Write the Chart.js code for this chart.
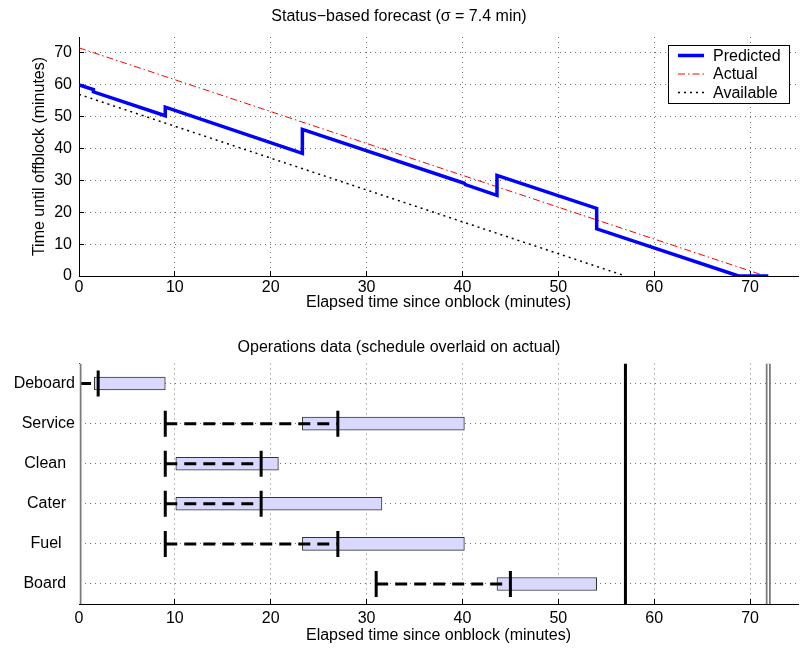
<!DOCTYPE html>
<html>
<head>
<meta charset="utf-8">
<script src="https://cdn.jsdelivr.net/npm/chart.js@4.4.0/dist/chart.umd.min.js"></script>
<style>
body { margin: 0; background: #fff; }
#wrap { position: relative; width: 807px; height: 650px; }
.panel { position: absolute; left: 0; width: 807px; height: 325px; }
</style>
</head>
<body>
<div id="wrap">
	<div class="panel" style="top:0"><canvas id="forecast_canvas" width="807" height="325"></canvas></div>
	<div class="panel" style="top:325px"><canvas id="ops_canvas" width="807" height="325"></canvas></div>
</div>
<script>
// --- status based forecast (top) ---
const pred_x = [0, 1.5, 1.5, 9.0, 9.0, 23.3, 23.3, 40.2, 40.3, 43.6, 43.6, 54.0, 54.0, 68.8, 71.9];
const pred_y = [60.0, 58.5, 57.8, 50.3, 53.0, 38.5, 46.0, 29.1, 28.7, 25.3, 31.6, 21.2, 14.8, 0, 0];
const actual_x = [0, 71.6];
const actual_y = [71.6, 0];
const avail_x = [0, 57];
const avail_y = [57, 0];
const minute_ticks = [0, 10, 20, 30, 40, 50, 60, 70];

// --- operations data (bottom) ---
const ops = ['Deboard', 'Service', 'Clean', 'Cater', 'Fuel', 'Board'];
const sched_start = [0, 9, 9, 9, 9, 31];
const sched_end = [2, 27, 19, 19, 27, 45];
const act_start = [1.6, 23.3, 10.1, 10.1, 23.3, 43.6];
const act_end = [9.0, 40.2, 20.8, 31.6, 40.2, 54.0];
const avail_offblock = 57;
const onblock = 0;
const actual_offblock = 71.9;

const font_family = '"Liberation Sans", Arial, Helvetica, sans-serif';
Chart.defaults.font.family = font_family;
Chart.defaults.font.size = 16;
Chart.defaults.color = '#000';
Chart.defaults.animation = false;

// dotted grid, short ticks pointing into the plot
const grid_dots = {
	color: 'rgba(0,0,0,0.55)', lineWidth: 1, offset: false,
	drawTicks: true, tickLength: -5, tickColor: '#000', tickWidth: 1, tickBorderDash: []
};
const axis_border = { color: '#000', width: 1, dash: [1, 4] };

function keepTicks(values) {
	return function(scale) {
		scale.ticks = values.map(v => ({ value: v }));
	};
}

// fixed axis sizes so the plot boxes line up with the figure
function fixSize(size) {
	return function(s) {
		if (s.isHorizontal()) s.height = size; else s.width = size;
		s.paddingLeft = 0; s.paddingRight = 0; s.paddingTop = 0; s.paddingBottom = 0;
	};
}

function pts(xs, ys) {
	return xs.map((x, i) => ({ x: x, y: ys[i] }));
}

// legend in a box, top right of plot area
const legend_box = {
	id: 'legend_box',
	afterDatasetsDraw(chart) {
		const ctx = chart.ctx;
		const area = chart.chartArea;
		const w = 121, h = 58;
		const x0 = area.right - 9 - w, y0 = area.top + 8;
		ctx.save();
		ctx.fillStyle = '#fff';
		ctx.fillRect(x0, y0, w, h);
		ctx.strokeStyle = '#000';
		ctx.lineWidth = 1;
		ctx.setLineDash([]);
		ctx.strokeRect(x0 + 0.5, y0 + 0.5, w, h);
		ctx.font = '16px ' + font_family;
		ctx.textBaseline = 'middle';
		ctx.fillStyle = '#000';
		chart.data.datasets.forEach((ds, i) => {
			const y = y0 + 10.5 + i * 18.5;
			ctx.beginPath();
			ctx.strokeStyle = ds.borderColor;
			ctx.lineWidth = ds.borderWidth;
			ctx.setLineDash(ds.borderDash || []);
			ctx.moveTo(x0 + 10, y);
			ctx.lineTo(x0 + 36, y);
			ctx.stroke();
			ctx.setLineDash([]);
			ctx.fillText(ds.label, x0 + 45, y + 1);
		});
		ctx.restore();
	}
};

new Chart(document.getElementById('forecast_canvas').getContext('2d'), {
	type: 'scatter',
	data: {
		datasets: [{
			type: 'line',
			label: 'Predicted',
			data: pts(pred_x, pred_y),
			borderColor: '#0000ff',
			borderWidth: 3.5,
			pointRadius: 0
		}, {
			type: 'line',
			label: 'Actual',
			data: pts(actual_x, actual_y),
			borderColor: '#ff0000',
			borderWidth: 1,
			borderDash: [7, 3, 1.5, 3],
			pointRadius: 0
		}, {
			type: 'line',
			label: 'Available',
			data: pts(avail_x, avail_y),
			borderColor: '#000',
			borderWidth: 1.5,
			borderDash: [2, 4],
			pointRadius: 0
		}]
	},
	options: {
		responsive: false,
		layout: { autoPadding: false, padding: { left: 0, right: 9, top: 0, bottom: 0 } },
		plugins: {
			legend: { display: false },
			tooltip: { enabled: false },
			title: {
				display: true,
				text: 'Status\u2212based forecast (\u03c3 = 7.4 min)',
				font: { size: 16, weight: 'normal' },
				padding: { top: 6.9, bottom: 10.9 }
			}
		},
		scales: {
			x: {
				type: 'linear', min: 0, max: 75,
				afterBuildTicks: keepTicks(minute_ticks),
				afterFit: fixSize(49),
				grid: grid_dots, border: axis_border,
				ticks: { padding: 7, maxRotation: 0 },
				title: { display: true, text: 'Elapsed time since onblock (minutes)', padding: { top: 0, bottom: 12.4 } }
			},
			y: {
				type: 'linear', min: 0, max: 75,
				afterBuildTicks: keepTicks(minute_ticks),
				afterFit: fixSize(79),
				grid: grid_dots, border: axis_border,
				ticks: { padding: 12 },
				title: { display: true, text: 'Time until offblock (minutes)', padding: { top: 30.4, bottom: 0 } }
			}
		}
	},
	plugins: [legend_box]
});

// schedule: dashed line per operation, plus start / end markers
const sched_lines = ops.map((op, i) => ({
	type: 'line',
	data: [{ x: sched_start[i], y: i + 1 }, { x: sched_end[i], y: i + 1 }],
	borderColor: '#000',
	borderWidth: 3,
	borderDash: [12, 7],
	pointRadius: 0,
	order: 2
}));

const sched_marks = {
	type: 'scatter',
	data: ops.flatMap((op, i) => [{ x: sched_start[i], y: i + 1 }, { x: sched_end[i], y: i + 1 }]),
	pointStyle: 'line',
	rotation: 90,
	radius: 13,
	hoverRadius: 13,
	borderColor: '#000',
	borderWidth: 3,
	order: 1
};

function vline(x, color, width, order) {
	return {
		type: 'line',
		data: [{ x: x, y: 0.5 }, { x: x, y: 6.5 }],
		borderColor: color,
		borderWidth: width,
		pointRadius: 0,
		order: order
	};
}

new Chart(document.getElementById('ops_canvas').getContext('2d'), {
	type: 'scatter',
	data: {
		datasets: [{
			type: 'bar',
			indexAxis: 'y',
			data: ops.map((op, i) => ({ y: i + 1, x: [act_start[i], act_end[i]] })),
			backgroundColor: 'rgb(217,217,255)',
			borderColor: '#333',
			borderWidth: 1,
			borderSkipped: false,
			barThickness: 13,
			order: 3
		}].concat(sched_lines, [sched_marks,
			vline(avail_offblock, '#000', 3, 0),
			vline(onblock, '#7a7a7a', 5, 0),
			vline(onblock, '#fff', 1.5, -1),
			vline(actual_offblock, '#7a7a7a', 5, 0),
			vline(actual_offblock, '#fff', 1.5, -1)
		])
	},
	options: {
		responsive: false,
		layout: { autoPadding: false, padding: { left: 0, right: 9, top: 0, bottom: 0 } },
		plugins: {
			legend: { display: false },
			tooltip: { enabled: false },
			title: {
				display: true,
				text: 'Operations data (schedule overlaid on actual)',
				font: { size: 16, weight: 'normal' },
				padding: { top: 13.4, bottom: 5.9 }
			}
		},
		scales: {
			x: {
				type: 'linear', min: 0, max: 75, offset: false,
				afterBuildTicks: keepTicks(minute_ticks),
				afterFit: fixSize(46),
				grid: grid_dots, border: axis_border,
				ticks: { padding: 10, maxRotation: 0 },
				title: { display: true, text: 'Elapsed time since onblock (minutes)', padding: { top: 0, bottom: 4.4 } }
			},
			y: {
				type: 'linear', min: 0.5, max: 6.5, reverse: true, offset: false,
				afterBuildTicks: keepTicks(ops.map((op, i) => i + 1)),
				afterFit: fixSize(79),
				grid: Object.assign({}, grid_dots, { drawTicks: false }), border: axis_border,
				ticks: { padding: 4, callback: v => (ops[v - 1] || '').padEnd(7) }
			}
		}
	}
});
</script>
</body>
</html>
